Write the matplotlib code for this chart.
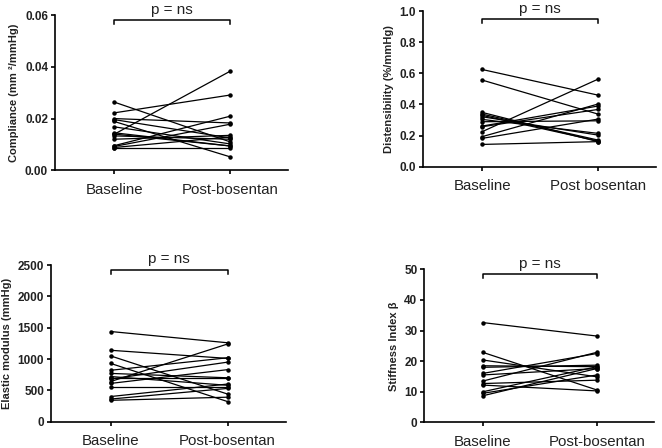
import matplotlib
matplotlib.use('Agg')
import matplotlib.pyplot as plt

plt.rcParams['font.family'] = ['Liberation Sans', 'DejaVu Sans']

# compliance (mm2/mmHg)
comp_base = [0.0264, 0.0222, 0.0200, 0.0196, 0.0189, 0.0168, 0.0145, 0.0139,
             0.0133, 0.0120, 0.0095, 0.0092, 0.0085, 0.0088, 0.0140]
comp_post = [0.0110, 0.0291, 0.0183, 0.0125, 0.0052, 0.0102, 0.0094, 0.0383,
             0.0120, 0.0135, 0.0209, 0.0178, 0.0085, 0.0129, 0.0094]

# distensibility (%/mmHg)
dist_base = [0.625, 0.557, 0.349, 0.338, 0.321, 0.304, 0.289, 0.261,
             0.257, 0.225, 0.193, 0.182, 0.143, 0.330]
dist_post = [0.460, 0.338, 0.161, 0.171, 0.203, 0.214, 0.295, 0.390,
             0.368, 0.563, 0.403, 0.306, 0.161, 0.165]

# elastic modulus (mmHg)
elas_base = [1440, 1140, 1050, 930, 820, 770, 720, 680, 640, 610, 550, 400, 360, 340, 700]
elas_post = [1260, 1010, 440, 320, 1020, 700, 580, 950, 1240, 830, 550, 600, 530, 390, 700]

# stiffness index beta
stif_base = [32.6, 22.9, 20.4, 18.5, 18.0, 16.0, 15.5, 13.5, 12.7, 12.2, 10.0, 9.5, 8.7]
stif_post = [28.2, 10.6, 14.9, 18.2, 18.7, 22.5, 17.6, 22.9, 13.8, 10.3, 18.2, 15.5, 17.6]

panels = [
    ([0.083, 0.620, 0.352, 0.346], comp_base, comp_post, ['Baseline', 'Post-bosentan'],
     'Compliance (mm ²/mmHg)', 0.06, [0, 0.02, 0.04, 0.06], ['0.00', '0.02', '0.04', '0.06'], 0.058),
    ([0.639, 0.628, 0.352, 0.347], dist_base, dist_post, ['Baseline', 'Post bosentan'],
     'Distensibility (%/mmHg)', 1.0, [0, 0.2, 0.4, 0.6, 0.8, 1.0], ['0.0', '0.2', '0.4', '0.6', '0.8', '1.0'], 0.95),
    ([0.077, 0.059, 0.355, 0.349], elas_base, elas_post, ['Baseline', 'Post-bosentan'],
     'Elastic modulus (mmHg)', 2500, [0, 500, 1000, 1500, 2000, 2500], ['0', '500', '1000', '1500', '2000', '2500'], 2430),
    ([0.641, 0.057, 0.347, 0.342], stif_base, stif_post, ['Baseline', 'Post-bosentan'],
     'Stiffness Index β', 50, [0, 10, 20, 30, 40, 50], ['0', '10', '20', '30', '40', '50'], 48.5),
]

fig = plt.figure(figsize=(6.62, 4.48), dpi=100)

for rect, base, post, xlabels, ylabel, ymax, yticks, yticklabels, bracket_y in panels:
    ax = fig.add_axes(rect)
    for b, p in zip(base, post):
        ax.plot([0, 1], [b, p], color='black', lw=0.9, marker='o', ms=2.2,
                clip_on=False)
    ax.set_xlim(-0.51, 1.5)
    ax.set_ylim(0, ymax)
    ax.set_yticks(yticks)
    ax.set_yticklabels(yticklabels, fontweight='bold', fontsize=8.5, color='#222222')
    ax.set_xticks([0, 1])
    ax.set_xticklabels(xlabels, fontsize=10.8, color='#222222')
    ax.set_ylabel(ylabel, fontweight='bold', fontsize=8, color='#222222')
    ax.spines['top'].set_visible(False)
    ax.spines['right'].set_visible(False)
    ax.spines['left'].set_linewidth(1.2)
    ax.spines['bottom'].set_linewidth(1.2)
    ax.tick_params(axis='both', width=1.2, length=3, pad=2)
    ax.tick_params(axis='x', pad=6)
    # significance bracket
    tick_h = ymax * 0.025
    ax.plot([0, 0, 1, 1], [bracket_y - tick_h, bracket_y, bracket_y, bracket_y - tick_h],
            color='black', lw=1.1, clip_on=False)
    ax.text(0.5, bracket_y + ymax * 0.02, 'p = ns', ha='center', va='bottom',
            fontsize=11, color='#222222')

fig.savefig('out.png', dpi=100)
